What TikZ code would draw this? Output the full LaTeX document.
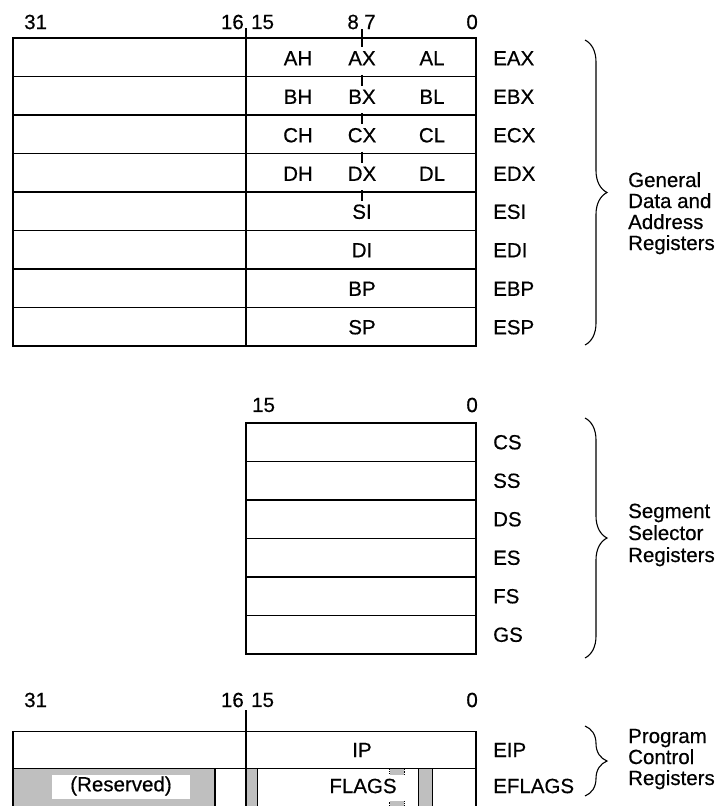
\documentclass[tikz,border=0pt]{standalone}
\usepackage{fontspec}
\setmainfont{Liberation Sans}
\newfontfamily\lblfont{Liberation Sans}[FakeBold=0.5]
\usetikzlibrary{decorations.pathreplacing}
\begin{document}
\begin{tikzpicture}[x=1pt,y=-1pt,
  reg/.style={line width=1.3pt},
  lbl/.style={font=\lblfont\fontsize{20.5}{24}\selectfont, inner sep=0pt},
  brc/.style={decorate,decoration={brace,amplitude=22pt},line width=1.1pt},
  shadebox/.style={fill=black!25},
]
\useasboundingbox (0,0) rectangle (725,806);

% ---------- General registers ----------
\draw[reg] (13,38) rectangle (476,346);
\foreach \y in {76.5,115,153.5,192,230.5,269,307.5}
  \draw[reg] (13,\y) -- (476,\y);
\draw[reg] (246,28) -- (246,346);
\draw[reg] (362,29) -- (362,47);
\foreach \y in {76.5,115,153.5,192}
  \draw[reg] (362,\y-2) -- (362,\y+9);

\node[lbl,anchor=west] (t31) at (24,22) {31};
\node[lbl,anchor=east] (t16) at (244,22) {16};
\node[lbl,anchor=west] (t15) at (251,22) {15};
\node[lbl,anchor=east] (t8) at (359,22) {8};
\node[lbl,anchor=west] (t7) at (364,22) {7};
\node[lbl,anchor=east] (t0) at (478,22) {0};

\foreach \h/\x/\l/\e [count=\i from 0] in {AH/AX/AL/EAX,BH/BX/BL/EBX,CH/CX/CL/ECX,DH/DX/DL/EDX}{
  \node[lbl] (h\i) at (298,{38+38.5*(\i+0.5)+1}) {\h};
  \node[lbl] (x\i) at (362,{38+38.5*(\i+0.5)+1}) {\x};
  \node[lbl] (l\i) at (432,{38+38.5*(\i+0.5)+1}) {\l};
  \node[lbl,anchor=west] (e\i) at (493,{38+38.5*(\i+0.5)+1}) {\e};
}
\foreach \w/\e [count=\i from 4] in {SI/ESI,DI/EDI,BP/EBP,SP/ESP}{
  \node[lbl] (w\i) at (362,{38+38.5*(\i+0.5)+0.5}) {\w};
  \node[lbl,anchor=west] (e\i) at (493,{38+38.5*(\i+0.5)+0.5}) {\e};
}

\coordinate (gb1) at (585,40);
\coordinate (gb2) at (585,345);
\draw[brc] (gb1) -- (gb2);
\node[lbl,anchor=base west] (g1) at (628,187) {General};
\node[lbl,anchor=base west] (g2) at (628,208) {Data and};
\node[lbl,anchor=base west] (g3) at (628,229) {Address};
\node[lbl,anchor=base west] (g4) at (628,250) {Registers};

% ---------- Segment registers ----------
\draw[reg] (246,423) rectangle (476,654);
\foreach \y in {461.5,500,538.5,577,615.5}
  \draw[reg] (246,\y) -- (476,\y);
\node[lbl,anchor=west] (s15) at (252,405) {15};
\node[lbl,anchor=east] (s0) at (478,405) {0};
\foreach \e [count=\i from 0] in {CS,SS,DS,ES,FS,GS}
  \node[lbl,anchor=west] (sg\i) at (493,{423+38.5*(\i+0.5)}) {\e};

\coordinate (sb1) at (585,418);
\coordinate (sb2) at (585,658);
\draw[brc] (sb1) -- (sb2);
\node[lbl,anchor=base west] (sr1) at (628,518) {Segment};
\node[lbl,anchor=base west] (sr2) at (628,540) {Selector};
\node[lbl,anchor=base west] (sr3) at (628,562) {Registers};

% ---------- Program control registers ----------
\fill[shadebox] (13,768.5) rectangle (215,806);
\fill[white] (52,775) rectangle (190,799);
\fill[shadebox] (246,768.5) rectangle (257.5,806);
\fill[shadebox] (418.5,768.5) rectangle (432.5,806);
\fill[shadebox] (389.5,768.5) rectangle (404,806);
\draw[densely dotted,line width=0.8pt] (389.5,806) -- (389.5,768.5) -- (404,768.5) -- (404,806);
\fill[white] (322,775) rectangle (405,801);

\draw[reg] (13,806) -- (13,731.5) -- (476,731.5) -- (476,806);
\draw[reg] (13,768.5) -- (476,768.5);
\draw[reg] (246,710) -- (246,806);
\foreach \x in {215,257.5,418.5,432.5}
  \draw[reg] (\x,768.5) -- (\x,806);

\node[lbl,anchor=west] (p31) at (24,700) {31};
\node[lbl,anchor=east] (p16) at (244,700) {16};
\node[lbl,anchor=west] (p15) at (251,700) {15};
\node[lbl,anchor=east] (p0) at (478,700) {0};

\node[lbl] (ip) at (362,750) {IP};
\node[lbl] (res) at (121,786) {(Reserved)};
\node[lbl] (fl) at (363,786) {FLAGS};
\node[lbl,anchor=west] (eip) at (493,750) {EIP};
\node[lbl,anchor=west] (efl) at (493,786) {EFLAGS};

\coordinate (pb1) at (585,726);
\coordinate (pb2) at (585,796);
\draw[brc] (pb1) -- (pb2);
\node[lbl,anchor=base west] (pr1) at (628,743) {Program};
\node[lbl,anchor=base west] (pr2) at (628,764) {Control};
\node[lbl,anchor=base west] (pr3) at (628,785) {Registers};
\end{tikzpicture}
\end{document}
